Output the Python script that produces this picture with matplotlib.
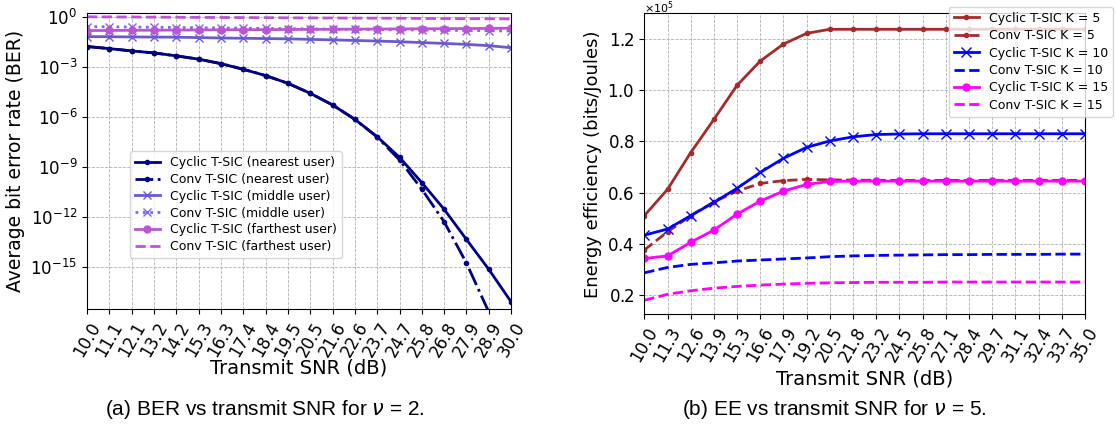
import matplotlib
matplotlib.use("Agg")
import matplotlib.pyplot as plt
from matplotlib.transforms import ScaledTranslation

plt.rcParams['axes.formatter.use_mathtext'] = True

# ---------------- data: panel (a) ----------------
snr_a = [10.0, 11.05, 12.11, 13.16, 14.21, 15.26, 16.32, 17.37, 18.42, 19.47,
         20.53, 21.58, 22.63, 23.68, 24.74, 25.79, 26.84, 27.89, 28.95, 30.0]
snr_a_labels = ['10.0', '11.1', '12.1', '13.2', '14.2', '15.3', '16.3', '17.4', '18.4', '19.5',
                '20.5', '21.6', '22.6', '23.7', '24.7', '25.8', '26.8', '27.9', '28.9', '30.0']

ber_cyc_near = [1.6e-2, 1.2e-2, 8.7e-3, 6.6e-3, 4.4e-3, 2.8e-3, 1.5e-3, 6.9e-4, 2.9e-4, 1.0e-4,
                2.5e-5, 5.0e-6, 6.9e-7, 6.3e-8, 3.6e-9, 1.1e-10, 2.8e-12, 4.4e-14, 6.9e-16, 7.9e-18]
ber_conv_near = [1.6e-2, 1.2e-2, 8.7e-3, 6.6e-3, 4.4e-3, 2.8e-3, 1.5e-3, 6.9e-4, 2.9e-4, 1.0e-4,
                 2.5e-5, 5.0e-6, 6.9e-7, 6.0e-8, 2.5e-9, 4.4e-11, 5.0e-13, 1.7e-15, 1.9e-18, 1.0e-21]
ber_cyc_mid = [6.3e-2, 6.2e-2, 6.0e-2, 5.9e-2, 5.8e-2, 5.5e-2, 5.2e-2, 5.0e-2, 4.8e-2, 4.6e-2,
               4.3e-2, 4.0e-2, 3.7e-2, 3.4e-2, 3.1e-2, 2.75e-2, 2.45e-2, 2.15e-2, 1.8e-2, 1.35e-2]
ber_conv_mid = [0.251, 0.243, 0.236, 0.228, 0.221, 0.214, 0.207, 0.200, 0.194, 0.188,
                0.182, 0.176, 0.171, 0.165, 0.160, 0.155, 0.150, 0.146, 0.141, 0.137]
ber_cyc_far = [0.145, 0.147, 0.150, 0.152, 0.155, 0.157, 0.160, 0.162, 0.165, 0.168,
               0.170, 0.173, 0.176, 0.179, 0.182, 0.185, 0.188, 0.191, 0.195, 0.200]
ber_conv_far = [0.97, 0.95, 0.94, 0.92, 0.91, 0.89, 0.88, 0.87, 0.86, 0.84,
                0.83, 0.82, 0.81, 0.80, 0.79, 0.77, 0.76, 0.75, 0.74, 0.72]

# ---------------- data: panel (b) ----------------
snr_b = [10.0, 11.32, 12.63, 13.95, 15.26, 16.58, 17.89, 19.21, 20.53, 21.84,
         23.16, 24.47, 25.79, 27.11, 28.42, 29.74, 31.05, 32.37, 33.68, 35.0]
snr_b_labels = ['10.0', '11.3', '12.6', '13.9', '15.3', '16.6', '17.9', '19.2', '20.5', '21.8',
                '23.2', '24.5', '25.8', '27.1', '28.4', '29.7', '31.1', '32.4', '33.7', '35.0']

ee_cyc_k5 = [51000, 61300, 75600, 88600, 101900, 111400, 118000, 122200, 123800, 123800,
             123800, 123800, 123800, 123800, 123800, 123800, 123800, 123800, 123800, 123800]
ee_conv_k5 = [37600, 44700, 51000, 56400, 60600, 63600, 64700, 65200, 65000, 64900,
              64800, 64800, 64800, 64800, 64800, 64800, 64800, 64800, 64800, 64800]
ee_cyc_k10 = [43400, 45800, 51000, 56200, 61700, 67900, 73400, 77700, 80200, 81800,
              82700, 82900, 83000, 83000, 83000, 83000, 83000, 83000, 83000, 83000]
ee_conv_k10 = [28700, 30800, 32000, 32600, 33300, 33700, 34100, 34500, 35000, 35300,
               35500, 35600, 35700, 35800, 35800, 35900, 35900, 35900, 36000, 36000]
ee_cyc_k15 = [34300, 35300, 40600, 45400, 51600, 56700, 60600, 63200, 64400, 64500,
              64500, 64500, 64500, 64500, 64500, 64500, 64500, 64500, 64500, 64500]
ee_conv_k15 = [18000, 20300, 21700, 22700, 23400, 23900, 24300, 24600, 24800, 24900,
               25000, 25000, 25000, 25100, 25100, 25100, 25100, 25100, 25100, 25100]

fig = plt.figure(figsize=(11.16, 4.38), dpi=100)
ax1 = fig.add_axes([0.078, 0.2938, 0.380, 0.676])
ax2 = fig.add_axes([0.5773, 0.2824, 0.3949, 0.687])

# ---------- panel (a) ----------
lw = 2
ax1.semilogy(snr_a, ber_cyc_near, '-', marker='.', color='navy', lw=lw, ms=6, label='Cyclic T-SIC (nearest user)')
ax1.semilogy(snr_a, ber_conv_near, '-.', marker='.', color='navy', lw=lw, ms=6, label='Conv T-SIC (nearest user)')
ax1.semilogy(snr_a, ber_cyc_mid, '-', marker='x', color='slateblue', lw=lw, ms=6, label='Cyclic T-SIC (middle user)')
ax1.semilogy(snr_a, ber_conv_mid, ':', marker='x', color='mediumslateblue', lw=lw, ms=6, label='Conv T-SIC (middle user)')
ax1.semilogy(snr_a, ber_cyc_far, '-', marker='o', color='mediumorchid', lw=lw, ms=5, label='Cyclic T-SIC (farthest user)')
ax1.semilogy(snr_a, ber_conv_far, '--', color='mediumorchid', lw=lw, label='Conv T-SIC (farthest user)')
ax1.set_xlim(10, 30)
ax1.set_ylim(10**-17.55, 10**0.2)
ax1.set_yticks([1e0, 1e-3, 1e-6, 1e-9, 1e-12, 1e-15])
ax1.minorticks_off()
ax1.set_xticks(snr_a)
ax1.set_xticklabels(snr_a_labels, rotation=60)
ax1.tick_params(axis='both', labelsize=12)
ax1.grid(True, linestyle='--', color='#b0b0b0', lw=0.6)
ax1.set_xlabel('Transmit SNR (dB)', fontsize=14, labelpad=-1)
ax1.set_ylabel('Average bit error rate (BER)', fontsize=13.5)
ax1.legend(loc='lower left', bbox_to_anchor=(0.101, 0.173), borderaxespad=0,
           fontsize=9, labelspacing=0.3)

# ---------- panel (b) ----------
ax2.plot(snr_b, ee_cyc_k5, '-', marker='.', color='brown', lw=lw, ms=6, label='Cyclic T-SIC K = 5')
ax2.plot(snr_b, ee_conv_k5, '--', marker='.', color='brown', lw=lw, ms=6, label='Conv T-SIC K = 5')
ax2.plot(snr_b, ee_cyc_k10, '-', marker='x', color='blue', lw=lw, ms=7, label='Cyclic T-SIC K = 10')
ax2.plot(snr_b, ee_conv_k10, '--', color='blue', lw=lw, label='Conv T-SIC K = 10')
ax2.plot(snr_b, ee_cyc_k15, '-', marker='o', color='magenta', lw=lw, ms=5, label='Cyclic T-SIC K = 15')
ax2.plot(snr_b, ee_conv_k15, '--', color='magenta', lw=lw, label='Conv T-SIC K = 15')
ax2.set_xlim(10, 35)
ax2.set_ylim(12500, 130000)
ax2.ticklabel_format(style='sci', axis='y', scilimits=(0, 0))
off = ax2.yaxis.get_offset_text()
off.set_fontsize(8)
off.set_transform(off.get_transform() + ScaledTranslation(0, -3 / 100, fig.dpi_scale_trans))
ax2.set_xticks(snr_b)
ax2.set_xticklabels(snr_b_labels, rotation=60)
ax2.tick_params(axis='both', labelsize=12)
ax2.grid(True, linestyle='--', color='#b0b0b0', lw=0.6)
ax2.set_xlabel('Transmit SNR (dB)', fontsize=14, labelpad=3)
ax2.set_ylabel('Energy efficiency (bits/Joules)', fontsize=13)
ax2.legend(loc='upper right', bbox_to_anchor=(1.0635, 1.022), borderaxespad=0,
           fontsize=9, labelspacing=0.35)

fig.text(0.2375, 0.064, r'(a) BER vs transmit SNR for $\nu$ = 2.', ha='center', va='center',
         fontsize=15, family='Liberation Sans')
fig.text(0.748, 0.064, r'(b) EE vs transmit SNR for $\nu$ = 5.', ha='center', va='center',
         fontsize=15, family='Liberation Sans')

fig.savefig('out.png', dpi=100)
